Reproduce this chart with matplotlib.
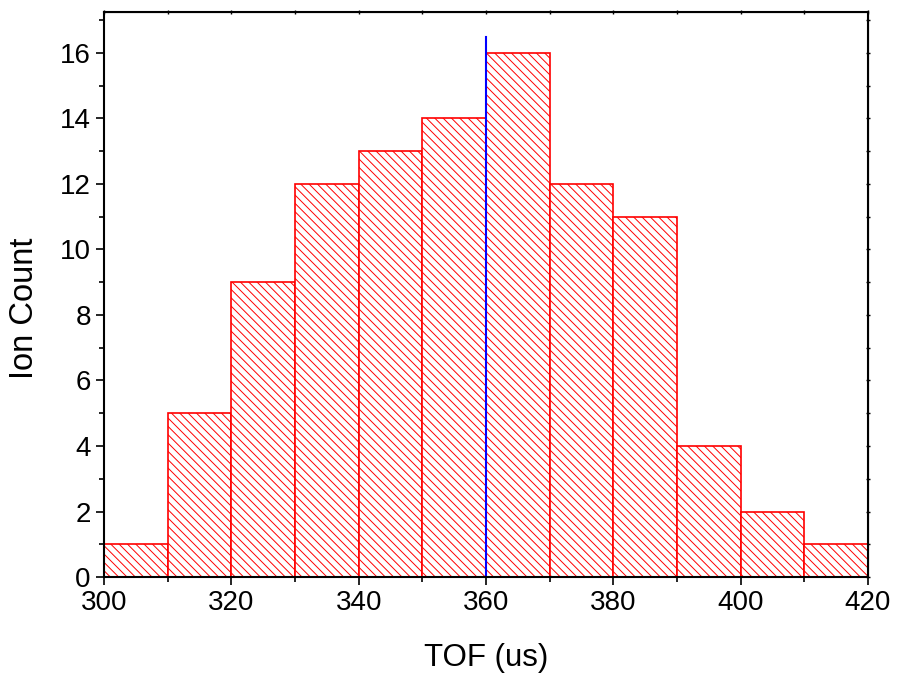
import matplotlib
matplotlib.use("Agg")
import matplotlib.pyplot as plt
from matplotlib.ticker import MultipleLocator
import numpy as np

# histogram of ion arrival times
bin_edges = [300, 310, 320, 330, 340, 350, 360, 370, 380, 390, 400, 410, 420]
ion_counts = [1, 5, 9, 12, 13, 14, 16, 12, 11, 4, 2, 1]
marker_tof = 360
marker_top = 16.5

plt.rcParams['font.family'] = ['Liberation Sans', 'DejaVu Sans']
plt.rcParams['hatch.linewidth'] = 0.7
plt.rcParams['hatch.color'] = 'red'

fig = plt.figure(figsize=(8.98, 6.73), dpi=100)
ax = fig.add_axes([0.1158, 0.1426, 0.8508, 0.8396])

left = np.array(bin_edges[:-1])
widths = np.diff(bin_edges)
ax.bar(left, ion_counts, width=widths, align='edge', facecolor='white',
       edgecolor='red', linewidth=1.2, hatch='\\\\\\\\')

ax.plot([marker_tof, marker_tof], [0, marker_top], color='blue', linewidth=1.5)

ax.set_xlim(300, 420)
ax.set_ylim(0, 17.25)
ax.xaxis.set_major_locator(MultipleLocator(20))
ax.xaxis.set_minor_locator(MultipleLocator(10))
ax.yaxis.set_major_locator(MultipleLocator(2))
ax.yaxis.set_minor_locator(MultipleLocator(1))

ax.tick_params(which='both', direction='out', labelsize=20, width=1.2)
ax.tick_params(which='major', length=6)
ax.tick_params(which='minor', length=3.5)
for s in ax.spines.values():
    s.set_linewidth(1.5)

# small ticks on the top and right frame
top = ax.secondary_xaxis('top')
right = ax.secondary_yaxis('right')
top.xaxis.set_major_locator(MultipleLocator(10))
right.yaxis.set_major_locator(MultipleLocator(1))
for sec in (top, right):
    sec.tick_params(direction='inout', length=2.5, width=1.0,
                    labeltop=False, labelright=False)

ax.set_xlabel('TOF (us)', fontsize=22.5, labelpad=19)
ax.set_ylabel('Ion Count', fontsize=23.5, labelpad=14)
ax.yaxis.label.set_y(0.475)

fig.savefig('out.png', dpi=100)
